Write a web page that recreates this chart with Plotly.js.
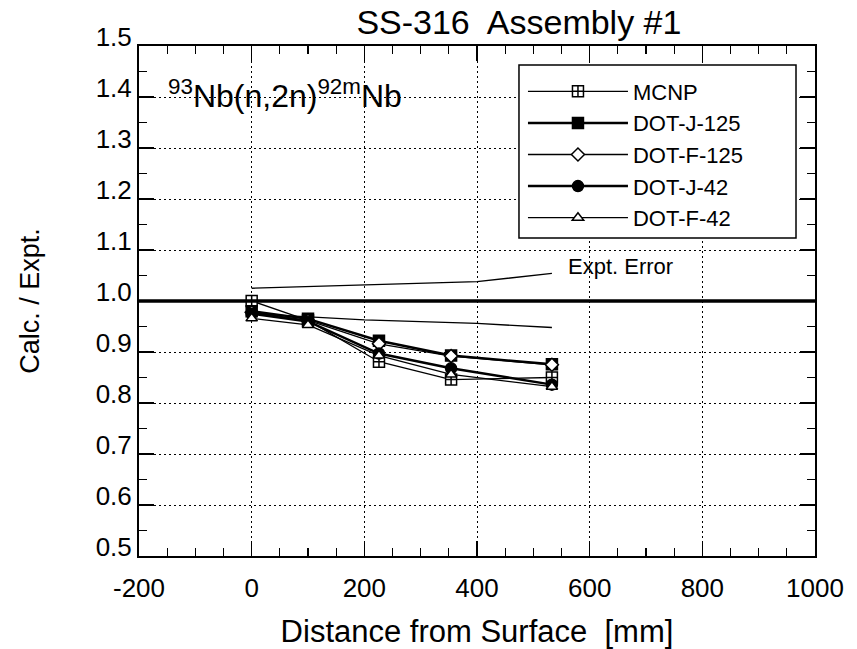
<!DOCTYPE html>
<html>
<head>
<meta charset="utf-8">
<script src="https://cdn.plot.ly/plotly-3.0.1.min.js"></script>
<style>
  html, body { margin: 0; padding: 0; background: #ffffff; }
  #chart { width: 857px; height: 649px; }
</style>
</head>
<body>
<div id="chart"></div>
<script>
// ---- data ----
const distance = [0, 100, 226, 354, 533];          // mm
const mcnp     = [1.000, 0.962, 0.881, 0.846, 0.850];
const dotJ125  = [0.980, 0.965, 0.922, 0.893, 0.876];
const dotF125  = [0.978, 0.962, 0.916, 0.892, 0.875];
const dotJ42   = [0.975, 0.960, 0.897, 0.868, 0.836];
const dotF42   = [0.966, 0.953, 0.893, 0.856, 0.832];

const errX     = [0, 200, 400, 533];
const errUpper = [1.025, 1.031, 1.038, 1.054];
const errLower = [0.975, 0.963, 0.956, 0.948];

const seriesNames = ["MCNP", "DOT-J-125", "DOT-F-125", "DOT-J-42", "DOT-F-42"];
const xTicks = [-200, 0, 200, 400, 600, 800, 1000];
const yTicks = [0.5, 0.6, 0.7, 0.8, 0.9, 1.0, 1.1, 1.2, 1.3, 1.4, 1.5];

const FONT = "Liberation Sans, Arial, Helvetica, sans-serif";

function series(name, y, symbol, fill, size, width) {
  return {
    type: "scatter", mode: "lines+markers", name: name,
    x: distance, y: y,
    line: { color: "#000", width: width },
    marker: { symbol: symbol, size: size, color: fill,
              line: { color: "#000", width: 1.5 } }
  };
}

const traces = [
  { type: "scatter", mode: "lines", x: errX, y: errUpper, showlegend: false,
    hoverinfo: "skip", line: { color: "#000", width: 1.3 } },
  { type: "scatter", mode: "lines", x: errX, y: errLower, showlegend: false,
    hoverinfo: "skip", line: { color: "#000", width: 1.3 } },
  series(seriesNames[0], mcnp,    "square-cross", "#fff", 11, 1.3),
  series(seriesNames[1], dotJ125, "square",       "#000", 11, 2.5),
  series(seriesNames[2], dotF125, "diamond",      "#fff", 10, 1.3),
  series(seriesNames[3], dotJ42,  "circle",       "#000", 11, 2.5),
  series(seriesNames[4], dotF42,  "triangle-up",  "#fff", 10, 1.3)
];

const layout = {
  width: 857, height: 649,
  paper_bgcolor: "#fff", plot_bgcolor: "#fff",
  margin: { l: 139, r: 42, t: 46, b: 93 },
  font: { family: FONT, color: "#000", size: 26 },
  title: { text: "SS-316  Assembly #1", x: 0.562, xref: "paper", xanchor: "center",
           y: 0.966, yref: "container", yanchor: "middle",
           font: { family: FONT, size: 34, color: "#000" } },
  xaxis: {
    range: [-200, 1000], tickvals: xTicks, ticktext: xTicks.map(String),
    ticks: "inside", ticklen: 15, tickwidth: 1.5, tickcolor: "#000",
    minor: { dtick: 50, ticks: "inside", ticklen: 8, tickwidth: 1.2, tickcolor: "#000", showgrid: false },
    showline: true, linecolor: "#000", linewidth: 2, mirror: "allticks",
    showgrid: true, gridcolor: "#000", gridwidth: 1, griddash: "2px,3px",
    zeroline: false,
    ticklabelstandoff: 8,
    tickfont: { family: FONT, size: 26, color: "#000" },
    title: { text: "Distance from Surface  [mm]", standoff: 18,
             font: { family: FONT, size: 31, color: "#000" } }
  },
  yaxis: {
    range: [0.5, 1.5], tickvals: yTicks, ticktext: yTicks.map(v => v.toFixed(1)),
    ticks: "inside", ticklen: 15, tickwidth: 1.5, tickcolor: "#000",
    minor: { dtick: 0.05, ticks: "inside", ticklen: 8, tickwidth: 1.2, tickcolor: "#000", showgrid: false },
    showline: true, linecolor: "#000", linewidth: 2, mirror: "allticks",
    showgrid: true, gridcolor: "#000", gridwidth: 1, griddash: "2px,3px",
    zeroline: false,
    ticklabelshift: -9,
    tickfont: { family: FONT, size: 26, color: "#000" },
    title: { text: "Calc. / Expt.", standoff: 48,
             font: { family: FONT, size: 27, color: "#000" } }
  },
  shapes: [
    { type: "line", xref: "paper", yref: "y", x0: 0, x1: 1, y0: 1.0, y1: 1.0,
      line: { color: "#000", width: 3.5 } },
    // legend frame
    { type: "rect", xref: "paper", yref: "paper", x0: 0.5621, x1: 0.9719, y0: 0.6235, y1: 0.9627,
      fillcolor: "#fff", line: { color: "#000", width: 1.5 }, layer: "above" }
  ],
  annotations: [
    { text: "<sup>93</sup>Nb(n,2n)<sup>92m</sup>Nb", xref: "paper", yref: "y",
      x: 0.04, y: 1.405, xanchor: "left", yanchor: "middle", showarrow: false,
      font: { family: FONT, size: 32, color: "#000" } },
    { text: "Expt. Error", xref: "x", yref: "y", x: 655, y: 1.068,
      xanchor: "center", yanchor: "middle", showarrow: false,
      font: { family: FONT, size: 22, color: "#000" } }
  ],
  legend: {
    x: 0.568, y: 0.952, xanchor: "left", yanchor: "top",
    bgcolor: "rgba(0,0,0,0)", borderwidth: 0,
    font: { family: FONT, size: 22, color: "#000" },
    itemwidth: 100, tracegroupgap: 0
  },
  showlegend: true
};

Plotly.newPlot("chart", traces, layout, { displayModeBar: false, staticPlot: true });
</script>
</body>
</html>
